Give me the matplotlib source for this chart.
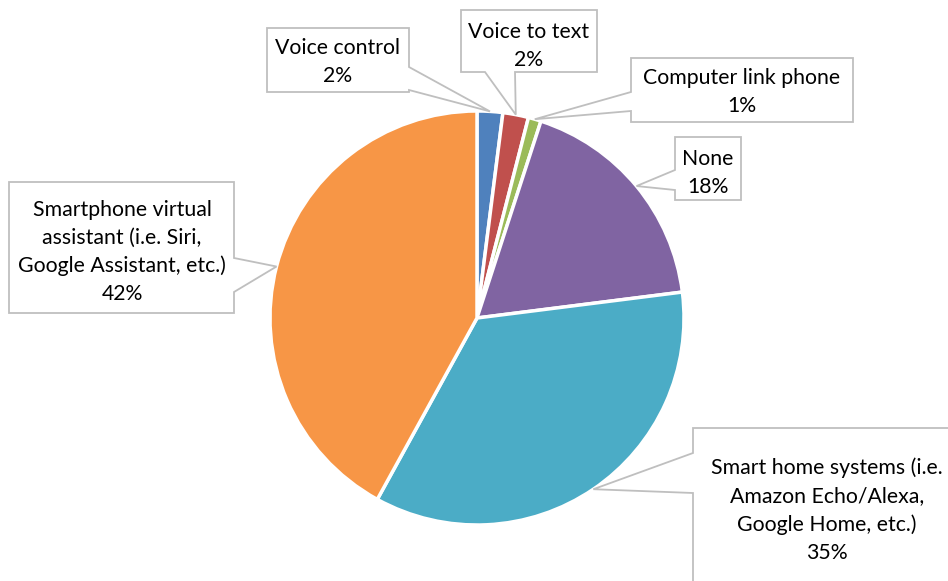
import numpy as np
import matplotlib
matplotlib.use("Agg")
import matplotlib.pyplot as plt
from matplotlib.patches import Polygon

# Survey shares (percent), clockwise from 12 o'clock
categories = [
    "Voice control",
    "Voice to text",
    "Computer link phone",
    "None",
    "Smart home systems (i.e.\nAmazon Echo/Alexa,\nGoogle Home, etc.)",
    "Smartphone virtual\nassistant (i.e. Siri,\nGoogle Assistant, etc.)",
]
values = [2, 2, 1, 18, 35, 42]
colors = ["#4F81BD", "#C0504D", "#9BBB59", "#8064A2", "#4BACC6", "#F79646"]

W, H = 948, 581
fig = plt.figure(figsize=(W / 100, H / 100), dpi=100)
ax = fig.add_axes([0, 0, 1, 1])

cx, cy, R = 477, 318, 207  # pie centre / radius in pixel units (y down)


def P(x, y):
    return (x, H - y)


ax.pie(values, colors=colors, startangle=90, counterclock=False,
       center=P(cx, cy), radius=R,
       wedgeprops=dict(edgecolor="white", linewidth=2.5), frame=True)
ax.set_xlim(0, W)
ax.set_ylim(0, H)
ax.set_aspect("equal")
ax.axis("off")

# callout box geometry: (x0, y0, x1, y1), pointer side, pointer base span, text centre (x, y)
boxes = [
    ((267, 28, 409, 92), "right", (67, 90), (338, 62)),
    ((461, 10, 597, 72), "bottom", (485, 515), (529, 46)),
    ((631, 58, 853, 122), "left", (92, 111), (742, 92)),
    ((675, 137, 741, 200), "left", (170, 190), (708, 173)),
    ((693, 428, 980, 620), "left", (453, 493), (827, 510)),
    ((9, 182, 234, 313), "right", (258, 292), (122, 252)),
]

total = float(sum(values))
cum = np.cumsum([0] + values)
for i, (val, name) in enumerate(zip(values, categories)):
    mid = (cum[i] + val / 2.0) / total * 2 * np.pi  # clockwise from top
    tx = cx + R * np.sin(mid)
    ty = cy - R * np.cos(mid)
    (x0, y0, x1, y1), side, (b0, b1), (txc, tyc) = boxes[i]
    if side == "right":
        pts = [(x0, y0), (x1, y0), (x1, b0), (tx, ty), (x1, b1), (x1, y1), (x0, y1)]
    elif side == "bottom":
        pts = [(x0, y0), (x1, y0), (x1, y1), (b1, y1), (tx, ty), (b0, y1), (x0, y1)]
    else:
        pts = [(x0, y0), (x1, y0), (x1, y1), (x0, y1), (x0, b1), (tx, ty), (x0, b0)]
    poly = Polygon([P(*p) for p in pts], closed=True, facecolor="white",
                   edgecolor="#BFBFBF", linewidth=1.3, zorder=5, joinstyle="miter")
    ax.add_patch(poly)
    label = f"{name}\n{val}%"
    ax.text(*P(txc, tyc), label, ha="center", va="center", fontsize=15.3,
            family="Lato", color="black", linespacing=1.5, zorder=6,
            transform=ax.transData)

fig.savefig("out.png", dpi=100)
